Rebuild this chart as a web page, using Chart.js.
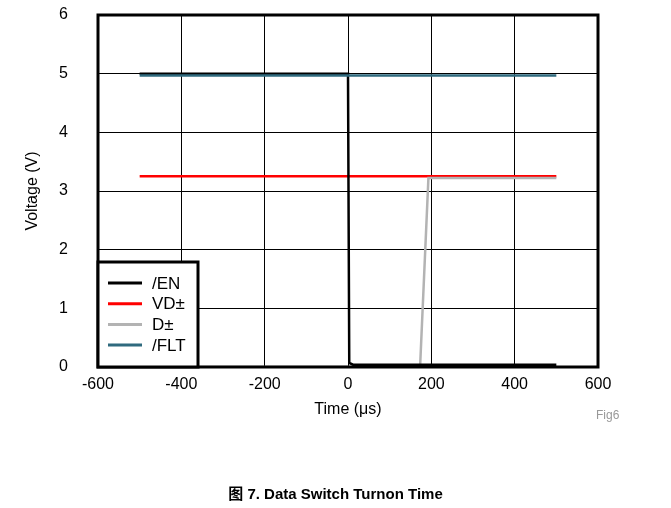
<!DOCTYPE html>
<html>
<head>
<meta charset="utf-8">
<script src="https://cdn.jsdelivr.net/npm/chart.js@4"></script>
<style>
  body { margin: 0; background: #fff; }
  #wrap { position: relative; width: 671px; height: 508px; }
  #fig { position: absolute; left: 596px; top: 408px; font: 12px "Liberation Sans", Arial, sans-serif; color: #999; }
  #caption { position: absolute; left: 0; width: 671px; top: 482px; text-align: center;
    font: bold 15px "Liberation Sans", Arial, "Noto Sans CJK SC", sans-serif; color: #000; }
</style>
</head>
<body>
<div id="wrap">
  <canvas id="chart" width="671" height="508"></canvas>
  <div id="fig">Fig6</div>
  <div id="caption">图 7. Data Switch Turnon Time</div>
</div>
<script>
// values (time in µs, voltage in V)
const labels = ['/EN', 'VD±', 'D±', '/FLT'];
const colors = ['#000000', '#ff0000', '#b3b3b3', '#2f6a7e'];

const enTime = [-500, 0, 3, 12, 500];
const enVolt = [5.0, 5.0, 0.07, 0.04, 0.04];
const vdTime = [-500, 500];
const vdVolt = [3.25, 3.25];
const dTime = [-500, 173, 193, 500];
const dVolt = [0, 0, 3.22, 3.22];
const fltTime = [-500, 500];
const fltVolt = [4.97, 4.97];

const xTicks = [-600, -400, -200, 0, 200, 400, 600];
const yTicks = [0, 1, 2, 3, 4, 5, 6];

const pts = (t, v) => t.map((x, i) => ({ x: x, y: v[i] }));
const series = [pts(enTime, enVolt), pts(vdTime, vdVolt), pts(dTime, dVolt), pts(fltTime, fltVolt)];
const drawOrder = [1, 3, 2, 0];

const FONT = '"Liberation Sans", Arial, sans-serif';

const extras = {
  id: 'extras',
  afterDatasetsDraw(chart) {
    const { ctx, chartArea: a } = chart;
    ctx.save();
    // plot frame
    ctx.strokeStyle = '#000';
    ctx.lineWidth = 3;
    ctx.strokeRect(a.left, a.top, a.right - a.left, a.bottom - a.top);

    // legend box inside the plot, bottom left
    const bx = a.left, by = 262, bw = 100, bh = a.bottom - 262;
    ctx.fillStyle = '#fff';
    ctx.fillRect(bx, by, bw, bh);
    ctx.lineWidth = 3;
    ctx.strokeRect(bx, by, bw, bh);
    ctx.font = '17px ' + FONT;
    ctx.textBaseline = 'middle';
    ctx.textAlign = 'left';
    chart.data.datasets.forEach((ds, i) => {
      const y = 283 + i * 20.7;
      ctx.strokeStyle = ds.borderColor;
      ctx.lineWidth = 3;
      ctx.beginPath();
      ctx.moveTo(bx + 10, y);
      ctx.lineTo(bx + 44, y);
      ctx.stroke();
      ctx.fillStyle = '#000';
      ctx.fillText(ds.label, bx + 54, y + 1);
    });

    // axis titles
    ctx.fillStyle = '#000';
    ctx.font = '16px ' + FONT;
    ctx.textAlign = 'center';
    ctx.fillText('Time (μs)', (a.left + a.right) / 2, 410);
    ctx.translate(33, (a.top + a.bottom) / 2);
    ctx.rotate(-Math.PI / 2);
    ctx.fillText('Voltage (V)', 0, 0);
    ctx.restore();
  }
};

new Chart(document.getElementById('chart'), {
  type: 'line',
  data: {
    datasets: series.map((d, i) => ({
      label: labels[i],
      data: d,
      borderColor: colors[i],
      borderWidth: 2.5,
      pointRadius: 0,
      tension: 0,
      order: drawOrder[i]
    }))
  },
  options: {
    responsive: false,
    animation: false,
    layout: { padding: { left: 0, top: 15, right: 73, bottom: 0 } },
    plugins: { legend: { display: false }, tooltip: { enabled: false } },
    scales: {
      x: {
        type: 'linear',
        min: xTicks[0],
        max: xTicks[xTicks.length - 1],
        afterBuildTicks: s => { s.ticks = xTicks.map(v => ({ value: v })); },
        afterFit: s => { s.height = 141; },
        grid: { color: '#000', lineWidth: 1, drawTicks: false },
        border: { display: false },
        ticks: { color: '#000', font: { size: 16, family: FONT }, padding: 8, maxRotation: 0 }
      },
      y: {
        type: 'linear',
        min: yTicks[0],
        max: yTicks[yTicks.length - 1],
        afterBuildTicks: s => { s.ticks = yTicks.map(v => ({ value: v })); },
        afterFit: s => { s.width = 98; },
        grid: { color: '#000', lineWidth: 1, drawTicks: true, tickLength: 28, tickColor: 'rgba(0,0,0,0)' },
        border: { display: false },
        ticks: { color: '#000', font: { size: 16, family: FONT }, padding: 2 }
      }
    }
  },
  plugins: [extras]
});
</script>
</body>
</html>
